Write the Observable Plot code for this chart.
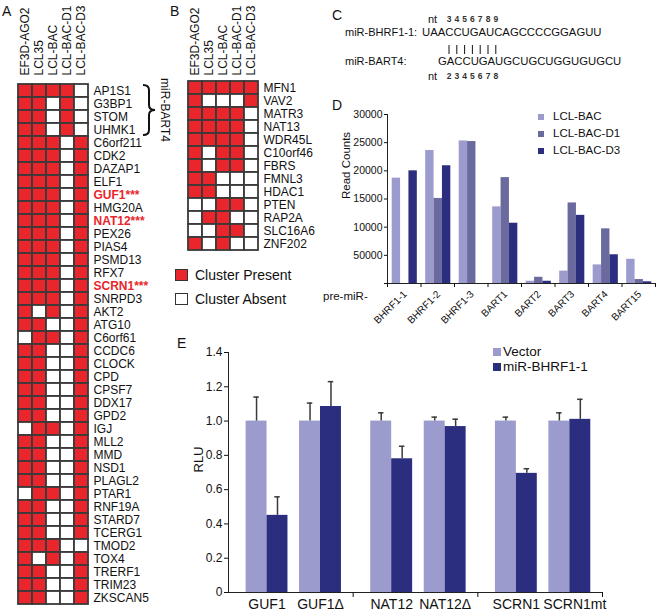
<!DOCTYPE html>
<html><head><meta charset="utf-8">
<script src="https://cdn.jsdelivr.net/npm/d3@7"></script>
<script src="https://cdn.jsdelivr.net/npm/@observablehq/plot@0.6"></script>
<style>
body{margin:0;background:#fff;font-family:"Liberation Sans",Arial,sans-serif;color:#111;}
#root{position:relative;width:660px;height:611px;overflow:hidden;}
.abs{position:absolute;}
.letter{position:absolute;font-size:14px;line-height:14px;}
.leg{position:absolute;white-space:nowrap;line-height:1;}
.sw{position:absolute;box-sizing:border-box;}
</style></head><body><div id="root"></div>
<script>
// ---------- DATA ----------
const colsA = ["EF3D-AGO2","LCL35","LCL-BAC","LCL-BAC-D1","LCL-BAC-D3"];
const genesA = ["AP1S1","G3BP1","STOM","UHMK1","C6orf211","CDK2","DAZAP1","ELF1","GUF1","HMG20A","NAT12","PEX26","PIAS4","PSMD13","RFX7","SCRN1","SNRPD3","AKT2","ATG10","C6orf61","CCDC6","CLOCK","CPD","CPSF7","DDX17","GPD2","IGJ","MLL2","MMD","NSD1","PLAGL2","PTAR1","RNF19A","STARD7","TCERG1","TMOD2","TOX4","TRERF1","TRIM23","ZKSCAN5"];
const presenceA = ["11110","11010","11010","11010","11101","11101","11101","11101","11101","11101","11101","11101","11101","11101","11101","11101","11101","10101","11001","01101","11001","11001","11001","11001","11001","11001","01101","11001","11001","11001","11001","01101","11001","11001","11001","11100","10101","11001","11001","11001"];
const highlightA = ["GUF1","NAT12","SCRN1"];
const bart4Group = ["AP1S1","G3BP1","STOM","UHMK1"];
const genesB = ["MFN1","VAV2","MATR3","NAT13","WDR45L","C10orf46","FBRS","FMNL3","HDAC1","PTEN","RAP2A","SLC16A6","ZNF202"];
const presenceB = ["11111","10001","11110","11110","11110","10110","10110","11000","11000","00110","01100","00110","10100"];
const legendAB = ["Cluster Present","Cluster Absent"];

const seqNames = ["miR-BHRF1-1:","miR-BART4:"];
const seqs = ["UAACCUGAUCAGCCCCGGAGUU","GACCUGAUGCUGCUGGUGUGCU"];
const ntTop = ["3","4","5","6","7","8","9"];
const ntBottom = ["2","3","4","5","6","7","8"];

const catsD = ["BHRF1-1","BHRF1-2","BHRF1-3","BART1","BART2","BART3","BART4","BART15"];
const seriesD = ["LCL-BAC","LCL-BAC-D1","LCL-BAC-D3"];
const bacD = [18700,23600,25300,13600,400,2200,3300,4300];
const d1D  = [0,15100,25200,18800,1100,14300,9700,700];
const d3D  = [20000,20900,0,10700,400,12100,5100,300];
const ticksD = [0,5000,10000,15000,20000,25000,30000];
const tickLabelsD = ["","50000","10000","15000","20000","25000","30000"];

const condE = ["GUF1","GUF1\u0394","NAT12","NAT12\u0394","SCRN1","SCRN1mt"];
const seriesE = ["Vector","miR-BHRF1-1"];
const vectorE = [1.0,1.0,1.0,1.0,1.0,1.0];
const vectorErrE = [0.14,0.105,0.048,0.023,0.023,0.048];
const mirE = [0.45,1.085,0.78,0.968,0.695,1.01];
const mirErrE = [0.108,0.145,0.073,0.043,0.027,0.117];
const ticksE = [0,0.2,0.4,0.6,0.8,1.0,1.2,1.4];

// ---------- STYLE ----------
const RED = "#e8262b";
const FONT = "'Liberation Sans', Arial, sans-serif";
const colorsD = ["#9b9bcd","#6a6a9f","#2b2d7e"];
const colorsE = ["#9b9bcd","#2b2d7e"];
const root = document.getElementById("root");
function place(el, left, top){ const d=document.createElement("div"); d.className="abs"; d.style.left=left+"px"; d.style.top=top+"px"; d.appendChild(el); root.appendChild(d); return el; }
function html(cls, left, top, txt, extra){ const d=document.createElement("div"); d.className=cls; d.style.left=left+"px"; d.style.top=top+"px"; if(txt!=null) d.textContent=txt; Object.assign(d.style, extra||{}); root.appendChild(d); return d; }

const ROW = 527/40;
function gridPanel(genes, presence, highlight){
  const h = 80 + genes.length*ROW + 4;
  const cells = genes.flatMap((g,i)=>colsA.map((c,j)=>({gene:g,col:c,v:presence[i][j]==="1"})));
  return Plot.plot({
    width:175, height:h, marginLeft:17, marginRight:175-89, marginTop:80, marginBottom:4,
    style:{fontFamily:FONT, background:"transparent", color:"#111"},
    x:{domain:colsA, padding:0, label:null},
    y:{domain:genes, padding:0, axis:null},
    marks:[
      Plot.cell(cells,{x:"col",y:"gene",inset:0,fill:d=>d.v?RED:"#fff",stroke:"#3a3a3a",strokeWidth:1.8}),
      Plot.axisX({anchor:"top",tickRotate:-90,tickSize:0,tickPadding:5,fontSize:12,label:null}),
      Plot.text(genes,{filter:d=>!highlight.includes(d),y:d=>d,frameAnchor:"right",textAnchor:"start",dx:4,fontSize:12,fill:"#111"}),
      Plot.text(genes,{filter:d=>highlight.includes(d),y:d=>d,frameAnchor:"right",textAnchor:"start",dx:4,fontSize:12,fill:RED,fontWeight:"bold",text:d=>d+"***"})
    ]
  });
}

// ---------- PANEL A ----------
const plotA = place(gridPanel(genesA, presenceA, highlightA), 0, 0);
{
  const sy = plotA.scale("y");
  const y0 = sy.apply(bart4Group[0]) + 1, y1 = sy.apply(bart4Group[bart4Group.length-1]) + sy.bandwidth - 1;
  const ym = (y0+y1)/2, xL=143, xM=149, xR=155, r=5;
  const svg = d3.select(plotA);
  svg.append("path").attr("d",`M${xL},${y0} Q${xM},${y0} ${xM},${y0+r} L${xM},${ym-r} Q${xM},${ym} ${xR},${ym} Q${xM},${ym} ${xM},${ym+r} L${xM},${y1-r} Q${xM},${y1} ${xL},${y1}`)
    .attr("fill","none").attr("stroke","#111").attr("stroke-width",2);
  svg.append("text").attr("x",164).attr("y",ym).attr("transform",`rotate(90,164,${ym})`)
    .attr("text-anchor","middle").attr("dominant-baseline","middle").attr("font-size",12).attr("fill","#111").text("miR-BART4");
}
// ---------- PANEL B ----------
place(gridPanel(genesB, presenceB, []), 170, 0);
html("sw",175,269,null,{width:"13px",height:"12px",background:RED,border:"1.5px solid #333"});
html("sw",175,293,null,{width:"13px",height:"12px",background:"#fff",border:"1.5px solid #333"});
html("leg",195,268,legendAB[0],{fontSize:"14px"});
html("leg",195,292,legendAB[1],{fontSize:"14px"});

// ---------- PANEL C ----------
{
  const svg = d3.select(root).append("svg").attr("width",330).attr("height",90)
    .style("position","absolute").style("left","330px").style("top","0px")
    .style("font-family",FONT);
  const ox = 330;
  const g = svg.append("g").attr("transform",`translate(${-ox},0)`).attr("fill","#111");
  g.append("text").attr("x",345).attr("y",33).attr("dominant-baseline","middle").attr("font-size",11).text(seqNames[0]);
  g.append("text").attr("x",422).attr("y",33).attr("dominant-baseline","middle").attr("font-size",11.3).text(seqs[0]);
  g.append("text").attr("x",345).attr("y",62).attr("dominant-baseline","middle").attr("font-size",11).text(seqNames[1]);
  g.append("text").attr("x",438).attr("y",62).attr("dominant-baseline","middle").attr("font-size",11.3).text(seqs[1]);
  g.append("text").attr("x",428).attr("y",20).attr("dominant-baseline","middle").attr("font-size",11).text("nt");
  g.append("text").attr("x",428).attr("y",77).attr("dominant-baseline","middle").attr("font-size",11).text("nt");
  ntTop.forEach((t,k)=>{
    const cx = 449 + k*7.8;
    g.append("text").attr("x",cx).attr("y",20).attr("text-anchor","middle").attr("dominant-baseline","middle").attr("font-size",8.5).attr("font-weight","bold").attr("fill","#333").text(t);
    g.append("text").attr("x",cx).attr("y",77).attr("text-anchor","middle").attr("dominant-baseline","middle").attr("font-size",8.5).attr("font-weight","bold").attr("fill","#333").text(ntBottom[k]);
    g.append("line").attr("x1",cx).attr("x2",cx).attr("y1",45).attr("y2",54).attr("stroke","#111").attr("stroke-width",1);
  });
}

// ---------- PANEL D ----------
{
  const valsD = [bacD,d1D,d3D];
  const dData = catsD.flatMap((c,i)=>seriesD.map((s,j)=>({cat:c,i,s,j,v:valsD[j][i]})));
  const BWD = 0.25, OFFD = 0.14;
  const p = Plot.plot({
    width:360, height:250, marginLeft:87, marginRight:5, marginTop:24, marginBottom:57,
    style:{fontFamily:FONT, background:"transparent", color:"#111"},
    x:{domain:[0,8]}, y:{domain:[0,30000]},
    color:{domain:seriesD, range:colorsD},
    marks:[
      Plot.rect(dData,{x1:d=>d.i+OFFD+d.j*BWD, x2:d=>d.i+OFFD+(d.j+1)*BWD, y1:0, y2:"v", fill:"s"}),
      Plot.ruleX([0],{stroke:"#222"}),
      Plot.ruleY([0],{stroke:"#222"}),
      Plot.axisY({ticks:ticksD, tickFormat:d=>tickLabelsD[ticksD.indexOf(d)], tickSize:3, tickPadding:2, fontSize:10.5, label:null}),
      Plot.axisX({ticks:d3.range(0,9), tickSize:4, tickFormat:()=>"", label:null}),
      Plot.text(catsD,{x:(d,i)=>i+0.5, y:0, rotate:-45, textAnchor:"end", dy:9, dx:1, fontSize:10}),
      Plot.text(["Read Counts"],{frameAnchor:"left", rotate:-90, dx:-41, fontSize:11.5})
    ]
  });
  place(p, 300, 90);
  html("leg",323,291,"pre-miR-",{fontSize:"11.5px"});
  seriesD.forEach((s,j)=>{
    const cy = 117 + j*17;
    html("sw",538,cy-3,null,{width:"6px",height:"6px",background:colorsD[j]});
    html("leg",553,cy-6,s,{fontSize:"11.5px"});
  });
}

// ---------- PANEL E ----------
{
  const ctr = i => Math.floor(i/2) + (i%2 ? 0.738 : 0.309);
  const BW = 0.168, CAP = 0.022;
  const eData = condE.flatMap((c,i)=>[
    {c,i,s:seriesE[0],m:vectorE[i],e:vectorErrE[i],x1:ctr(i)-BW,x2:ctr(i)},
    {c,i,s:seriesE[1],m:mirE[i],e:mirErrE[i],x1:ctr(i),x2:ctr(i)+BW}
  ]);
  const mid = d => (d.x1+d.x2)/2;
  const last = condE.length-1;
  const p = Plot.plot({
    width:490, height:281, marginLeft:58, marginRight:58, marginTop:22, marginBottom:19,
    style:{fontFamily:FONT, background:"transparent", color:"#111"},
    x:{domain:[0,3]}, y:{domain:[0,1.4]},
    color:{domain:seriesE, range:colorsE},
    marks:[
      Plot.rect(eData,{x1:"x1",x2:"x2",y1:0,y2:"m",fill:"s"}),
      Plot.ruleX(eData,{x:mid, y1:"m", y2:d=>d.m+d.e, stroke:"#3a3a3a", strokeWidth:1.5}),
      Plot.ruleY(eData,{y:d=>d.m+d.e, x1:d=>mid(d)-CAP, x2:d=>mid(d)+CAP, stroke:"#3a3a3a", strokeWidth:1.5}),
      Plot.ruleX([0],{stroke:"#222"}),
      Plot.ruleY([0],{stroke:"#222"}),
      Plot.axisY({ticks:ticksE, tickFormat:d=>d===0?"0":d.toFixed(1), tickSize:4, tickPadding:2, fontSize:12, label:null}),
      Plot.axisX({ticks:[1,2,3], tickSize:5, tickFormat:()=>"", label:null}),
      Plot.text(condE,{filter:(d,i)=>i!==last, x:(d,i)=>ctr(i), y:0, dy:12, fontSize:14}),
      Plot.text(condE,{filter:(d,i)=>i===last, x:(d,i)=>ctr(i), y:0, dy:12, dx:5, fontSize:14}),
      Plot.text(["RLU"],{frameAnchor:"left", rotate:-90, dx:-30, fontSize:13})
    ]
  });
  place(p, 170, 330);
  seriesE.forEach((s,j)=>{
    const cy = 352 + j*15;
    html("sw",493,cy-4,null,{width:"8px",height:"8px",background:colorsE[j]});
    html("leg",503,cy-7,s,{fontSize:"13.5px"});
  });
}

// ---------- PANEL LETTERS ----------
html("letter",2,4,"A");
html("letter",170,4,"B");
html("letter",332,8,"C");
html("letter",332,98,"D");
html("letter",177,336,"E");
</script></body></html>
